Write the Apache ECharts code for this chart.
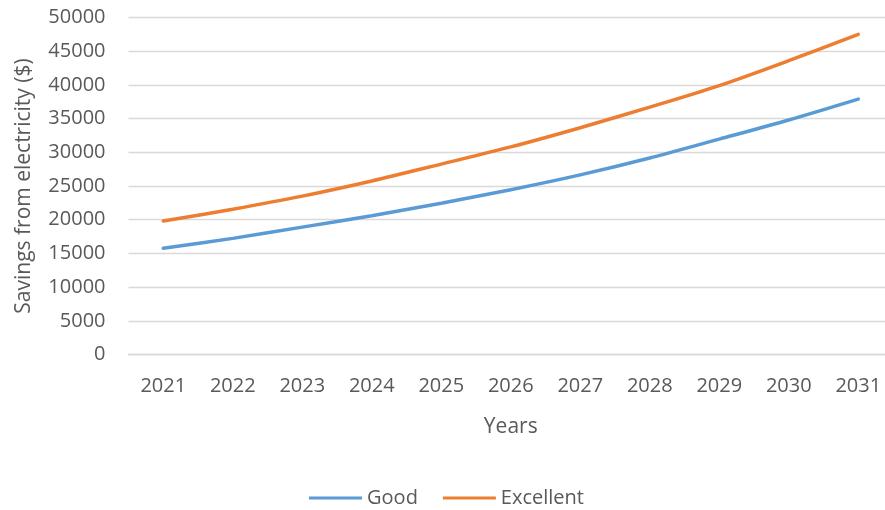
<!DOCTYPE html>
<html>
<head>
<meta charset="utf-8">
<script src="https://cdn.jsdelivr.net/npm/echarts@6/dist/echarts.min.js"></script>
<style>html,body{margin:0;padding:0;background:#fff;overflow:hidden;width:885px;height:510px}#c{width:893px;height:510px}</style>
</head>
<body>
<div id="c"></div>
<script>
const years = ['2021','2022','2023','2024','2025','2026','2027','2028','2029','2030','2031'];
const good = [15750, 17230, 18900, 20600, 22450, 24450, 26650, 29150, 31950, 34800, 37900];
const excellent = [19800, 21560, 23500, 25750, 28250, 30800, 33650, 36700, 39900, 43600, 47500];
const yTicks = { min: 0, max: 50000, interval: 5000 };

const FONT = 'Open Sans';
const TXT = '#595959';
const chart = echarts.init(document.getElementById('c'), null, { renderer: 'canvas' });
chart.setOption({
  animation: false,
  backgroundColor: '#ffffff',
  textStyle: { fontFamily: FONT },
  grid: { left: 128.5, right: 0, top: 17.5, height: 337, containLabel: false },
  legend: {
    top: 483,
    left: 'center',
    icon: 'rect',
    itemWidth: 53,
    itemHeight: 3,
    itemGap: 25,
    textStyle: { fontFamily: FONT, fontSize: 20, color: TXT },
    data: ['Good', 'Excellent']
  },
  xAxis: {
    type: 'category',
    data: years,
    boundaryGap: true,
    name: 'Years',
    nameLocation: 'middle',
    nameGap: 62,
    nameTextStyle: { fontFamily: FONT, fontSize: 21, color: TXT },
    axisLine: { show: true, lineStyle: { color: '#d9d9d9', width: 1.3 } },
    axisTick: { show: false },
    axisLabel: { fontFamily: FONT, fontSize: 20, color: TXT, margin: 22 }
  },
  yAxis: {
    type: 'value',
    min: yTicks.min,
    max: yTicks.max,
    interval: yTicks.interval,
    name: 'Savings from electricity ($)',
    nameLocation: 'middle',
    nameGap: 94,
    nameTextStyle: { fontFamily: FONT, fontSize: 21, color: TXT },
    axisLine: { show: false },
    axisTick: { show: false },
    axisLabel: { fontFamily: FONT, fontSize: 20, color: TXT, margin: 23, formatter: v => String(v) },
    splitLine: { show: true, lineStyle: { color: '#d9d9d9', width: 1.3 } }
  },
  series: [
    {
      name: 'Good', type: 'line', data: good, smooth: 0.3, symbol: 'none',
      lineStyle: { color: '#5B9BD5', width: 3.5, cap: 'round' },
      itemStyle: { color: '#5B9BD5' }
    },
    {
      name: 'Excellent', type: 'line', data: excellent, smooth: 0.3, symbol: 'none',
      lineStyle: { color: '#ED7D31', width: 3.5, cap: 'round' },
      itemStyle: { color: '#ED7D31' }
    }
  ]
});
</script>
</body>
</html>
